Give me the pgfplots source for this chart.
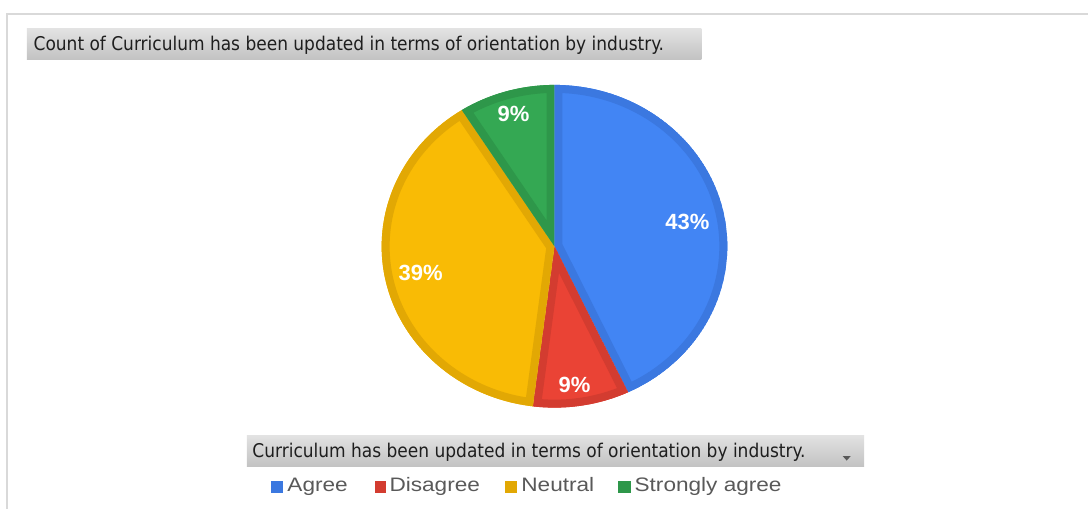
\documentclass[border=0pt]{standalone}
\usepackage{pgfplots}
\pgfplotsset{compat=1.18}
\usepackage{pgfplotstable}
\usepackage{fontspec}
\setmainfont{Liberation Sans}
\newfontfamily\titlefont{DejaVu Sans Condensed}
\newfontfamily\legfont[FakeStretch=1.16]{Liberation Sans}
\definecolor{agree}{HTML}{4285F4}
\definecolor{agreeD}{HTML}{3B78E0}
\definecolor{disagree}{HTML}{EA4335}
\definecolor{disagreeD}{HTML}{D33C30}
\definecolor{neutral}{HTML}{F9BB05}
\definecolor{neutralD}{HTML}{E2A804}
\definecolor{strong}{HTML}{34A853}
\definecolor{strongD}{HTML}{2E974A}
\definecolor{frame}{HTML}{D9D9D9}
\definecolor{boxtop}{HTML}{E2E2E2}
\definecolor{boxbot}{HTML}{C2C2C2}
\definecolor{titletext}{HTML}{1E1E1E}
\definecolor{legtext}{HTML}{595959}

\pgfplotstableread[col sep=comma]{
label,value
Agree,43
Disagree,9
Neutral,39
Strongly agree,9
}\piedata

% slice: start angle, end angle, fill, border
\newcommand\slice[4]{%
  \pgfplotsextra{%
    \begin{scope}
      \clip (axis cs:555,246.5) -- ++(#1:173pt and 161.5pt)
        arc[start angle=#1, end angle=#2, x radius=173pt, y radius=161.5pt] -- cycle;
      \fill[#3, draw=#4, line width=16pt, line join=miter] (axis cs:555,246.5) -- ++(#1:173pt and 161.5pt)
        arc[start angle=#1, end angle=#2, x radius=173pt, y radius=161.5pt] -- cycle;
    \end{scope}}}

\begin{document}%
\pgfplotstablegetelem{0}{value}\of\piedata \let\vA\pgfplotsretval%
\pgfplotstablegetelem{1}{value}\of\piedata \let\vB\pgfplotsretval%
\pgfplotstablegetelem{2}{value}\of\piedata \let\vC\pgfplotsretval%
\pgfplotstablegetelem{3}{value}\of\piedata \let\vD\pgfplotsretval%
\pgfmathsetmacro\aA{90}%
\pgfmathsetmacro\aB{\aA-3.6*\vA}%
\pgfmathsetmacro\aC{\aB-3.6*\vB}%
\pgfmathsetmacro\aD{\aC-3.6*\vC}%
\pgfmathsetmacro\aE{\aD-3.6*\vD}%
\begin{tikzpicture}
\begin{axis}[scale only axis, width=1089pt, height=509pt,
  xmin=0, xmax=1089, ymin=0, ymax=509, y dir=reverse,
  hide axis, clip=false]
\addplot[draw=none] coordinates {(0,0) (1089,509)};
% frame
\draw[frame, line width=2pt] (axis cs:7,509) -- (axis cs:7,14) -- (axis cs:1089,14);
% title
\shade[top color=boxtop, bottom color=boxbot] (axis cs:27,29) rectangle (axis cs:702,60);
\node[anchor=base west, inner sep=0, text=titletext] at (axis cs:33.5,50.5)
  {\resizebox{631pt}{!}{\titlefont Count of Curriculum has been updated in terms of orientation by industry.}};
% pie
\slice{\aA}{\aB}{agree}{agreeD}
\slice{\aB}{\aC}{disagree}{disagreeD}
\slice{\aC}{\aD}{neutral}{neutralD}
\slice{\aD}{\aE}{strong}{strongD}
\node[text=white, font=\bfseries\fontsize{22}{22}\selectfont] at (axis cs:688,222) {\vA\%};
\node[text=white, font=\bfseries\fontsize{22}{22}\selectfont] at (axis cs:575,385) {\vB\%};
\node[text=white, font=\bfseries\fontsize{22}{22}\selectfont] at (axis cs:421,273) {\vC\%};
\node[text=white, font=\bfseries\fontsize{22}{22}\selectfont] at (axis cs:514,114) {\vD\%};
% legend header
\shade[top color=boxtop, bottom color=boxbot] (axis cs:247,436) rectangle (axis cs:865,467);
\node[anchor=base west, inner sep=0, text=titletext] at (axis cs:252.5,457.5)
  {\resizebox{553.5pt}{!}{\titlefont Curriculum has been updated in terms of orientation by industry.}};
\fill[black!65] (axis cs:843.5,456.5) -- (axis cs:851.5,456.5) -- (axis cs:847.5,461) -- cycle;
% legend entries
\fill[agreeD] (axis cs:271,481) rectangle (axis cs:283,493);
\node[anchor=base west, inner sep=0, text=legtext, font=\legfont\fontsize{19.5}{20}\selectfont] at (axis cs:287.5,492) {Agree};
\fill[disagreeD] (axis cs:375,481) rectangle (axis cs:386,493);
\node[anchor=base west, inner sep=0, text=legtext, font=\legfont\fontsize{19.5}{20}\selectfont] at (axis cs:389.7,492) {Disagree};
\fill[neutralD] (axis cs:505,481) rectangle (axis cs:517.5,493);
\node[anchor=base west, inner sep=0, text=legtext, font=\legfont\fontsize{19.5}{20}\selectfont] at (axis cs:521.7,492) {Neutral};
\fill[strongD] (axis cs:619,481) rectangle (axis cs:631.5,493);
\node[anchor=base west, inner sep=0, text=legtext, font=\legfont\fontsize{19.5}{20}\selectfont] at (axis cs:635,492) {Strongly agree};
\end{axis}
\end{tikzpicture}%
\end{document}
